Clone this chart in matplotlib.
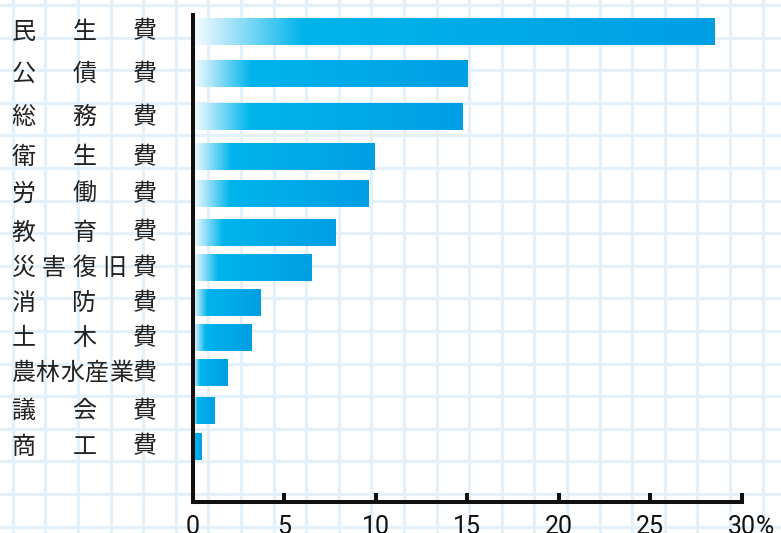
import numpy as np
import matplotlib
matplotlib.use("Agg")
import matplotlib.pyplot as plt
from matplotlib import font_manager, transforms
from matplotlib.colors import LinearSegmentedColormap

# expenditure categories (top to bottom) and their share in %
categories = ['民生費', '公債費', '総務費', '衛生費', '労働費', '教育費',
              '災害復旧費', '消防費', '土木費', '農林水産業費', '議会費', '商工費']
shares = [28.5, 15.0, 14.7, 9.9, 9.6, 7.8, 6.5, 3.7, 3.2, 1.9, 1.15, 0.45]
xticks = [0, 5, 10, 15, 20, 25, 30]
xticklabels = ['0', '5', '10', '15', '20', '25', '30']

# row placement (rows are not evenly spaced in the original layout)
rows = [0, 1.13, 2.26, 3.32, 4.3, 5.33, 6.27, 7.2, 8.13, 9.05, 10.06, 11.0]

W, H = 781, 533
names = {f.name for f in font_manager.fontManager.ttflist}
num_font = 'Liberation Sans Narrow' if 'Liberation Sans Narrow' in names else 'Roboto'
jp_font = ['Noto Sans CJK JP', 'DejaVu Sans']

fig = plt.figure(figsize=(W / 100, H / 100), dpi=100)

# graph-paper background
bg = fig.add_axes([0, 0, 1, 1], zorder=-1)
bg.set_xlim(0, W)
bg.set_ylim(H, 0)
bg.axis('off')
grid_c = '#e4f1fb'
for gx in np.arange(12.8, W, 32.6):
    bg.axvline(gx, color=grid_c, lw=2.3)
for gy in np.arange(5, H, 32.6):
    bg.axhline(gy, color=grid_c, lw=2.3)

ax = fig.add_axes([192.7 / W, (H - 502) / H, (741.7 - 192.7) / W, (502 - 15) / H])
ax.set_facecolor('none')

bars = ax.barh(rows, shares, height=0.69, color='none', edgecolor='none')

cmap = LinearSegmentedColormap.from_list(
    'bar', [(0, '#f8fcff'), (0.21, '#00b4ec'), (1, '#009fe4')])
grad = np.linspace(0, 1, 256).reshape(1, -1)
for b in bars:
    x0, y0, w, h = b.get_x(), b.get_y(), b.get_width(), b.get_height()
    ax.imshow(grad, cmap=cmap, aspect='auto', interpolation='bilinear',
              extent=[x0, x0 + w, y0 + h, y0], zorder=2)

ax.set_xlim(0, 30)
ax.set_ylim(12.47, -0.44)

for s in ['top', 'right']:
    ax.spines[s].set_visible(False)
for s in ['left', 'bottom']:
    ax.spines[s].set_linewidth(2.9)
    ax.spines[s].set_color('#111111')
    ax.spines[s].set_zorder(5)

ax.set_yticks([])
ax.set_xticks(xticks)
ax.set_xticklabels(xticklabels, fontsize=18, family=num_font, color='#111111')
ax.tick_params(axis='x', direction='in', length=6.5, width=2.9, pad=9,
               color='#111111')
ax.annotate('%', xy=(30, 0), xycoords=('data', 'axes fraction'),
            xytext=(10, -9), textcoords='offset points', ha='left', va='top',
            fontsize=18, family=num_font, color='#111111')

# category labels, characters spread evenly across the label column
tr = transforms.blended_transform_factory(fig.transFigure, ax.transData)
for r, lab in zip(rows, categories):
    xs = np.linspace(23.5, 145, len(lab))
    for ch, px in zip(lab, xs):
        ax.text(px / W, r, ch, transform=tr, ha='center', va='center',
                fontsize=17.3, family=jp_font, color='#222222')

fig.savefig('out.png', dpi=100)
